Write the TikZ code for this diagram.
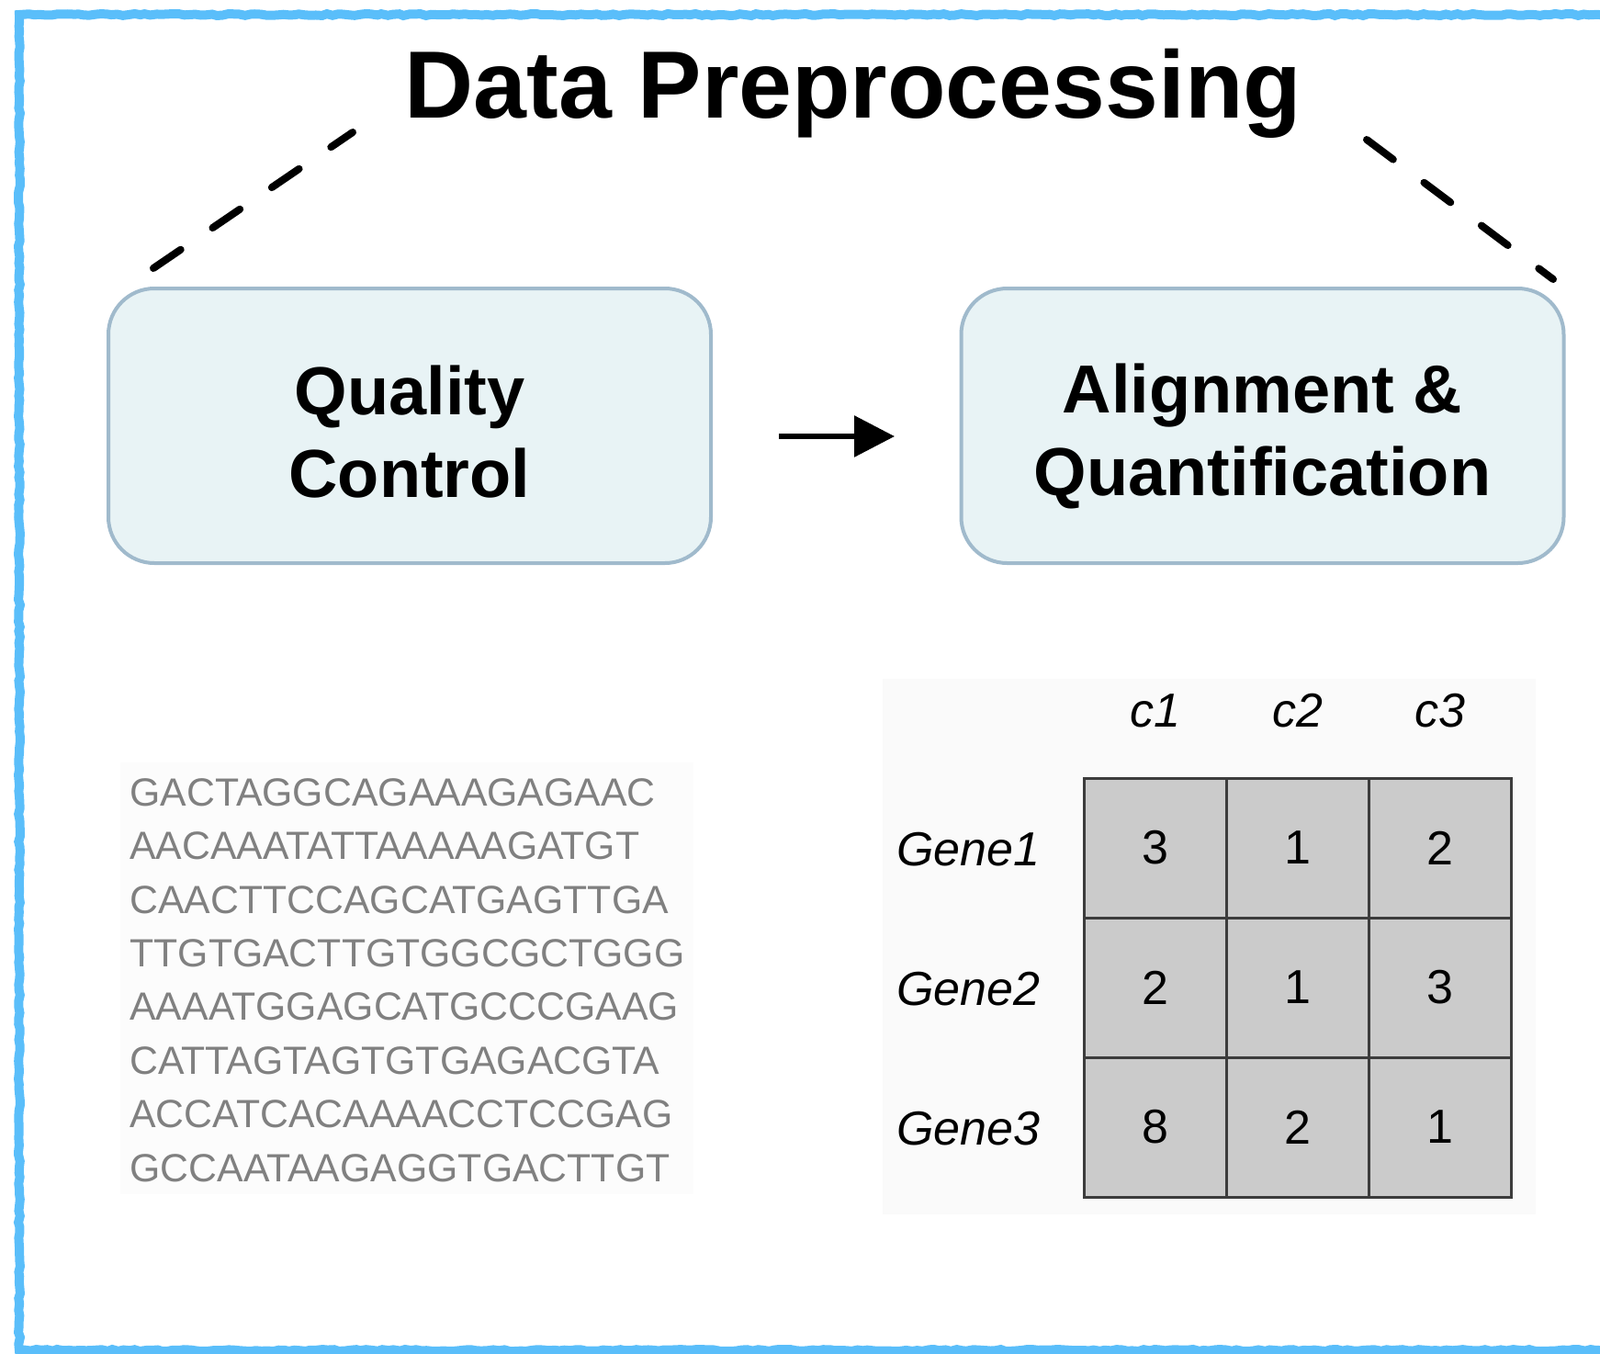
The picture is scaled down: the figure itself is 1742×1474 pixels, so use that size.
\documentclass[tikz,border=0pt]{standalone}
\usepackage{fontspec}
\setmainfont{Liberation Sans}
\usetikzlibrary{arrows.meta,decorations.pathmorphing}

\definecolor{frameblue}{RGB}{90,190,250}
\definecolor{boxfill}{RGB}{232,243,245}
\definecolor{boxline}{RGB}{160,186,204}
\definecolor{readgray}{RGB}{128,128,128}
\definecolor{cellfill}{RGB}{203,203,203}
\definecolor{cellline}{RGB}{60,60,60}

\tikzset{
  stepbox/.style={draw=boxline, line width=2pt, fill=boxfill, rounded corners=25pt, minimum width=328pt, minimum height=149.5pt, inner sep=0pt},
  steptext/.style={align=center, inner sep=0pt, font=\fontsize{37}{45}\selectfont\bfseries},
  titletext/.style={inner sep=0pt, font=\fontsize{52}{60}\selectfont\bfseries},
  bracket/.style={line width=4pt, line cap=round, dash pattern=on 18pt off 21pt},
  flow/.style={line width=3pt, -{Triangle[length=22pt,width=22pt]}},
  readtext/.style={text=readgray, align=left, inner sep=0pt, font=\fontsize{21.4}{29.2}\selectfont},
  countcell/.style={draw=cellline, line width=1.5pt, fill=cellfill, minimum width=77.5pt, minimum height=76pt, inner sep=0pt, font=\fontsize{26}{30}\selectfont},
  labeltext/.style={inner sep=0pt, font=\fontsize{26}{30}\selectfont\itshape},
  sketchframe/.style={draw=frameblue, line width=5pt, decorate, decoration={random steps, segment length=3pt, amplitude=0.5pt}}
}

\begin{document}
\begin{tikzpicture}[x=0.5pt,y=0.5pt,yscale=-1,xscale=1]
\useasboundingbox (0,0) rectangle (1742,1474);

%Shape: Frame
\draw[sketchframe] (1742,16) -- (21,16) -- (21,1470) -- (1742,1470);

%Shape: Rectangle
\fill[black!1] (131,830) rectangle (755,1300);
%Shape: Rectangle
\fill[black!2] (961,739) rectangle (1672,1322);

% Text Node
\node[titletext, anchor=base] (title) at (929,128) {Data Preprocessing};

%Rounded Rect
\node[stepbox] (qc) at (446,463.5) {};
\node[steptext] (qclabel) at (446,470) {Quality\\Control};
%Rounded Rect
\node[stepbox] (aq) at (1374.5,463.5) {};
\node[steptext] (aqlabel) at (1374.5,475) {Alignment \&\\Quantification};

%Straight Lines
\coordinate (qcend) at (167,292);
\coordinate (titleleft) at (384,144);
\coordinate (titleright) at (1488,152);
\coordinate (aqend) at (1691,304);
\draw[bracket] (qcend) -- (titleleft);
\draw[bracket] (titleright) -- (aqend);

%Straight Lines
\draw[flow, shorten <=36pt, shorten >=35.25pt] ([yshift=5.75pt]qc.east) -- ([yshift=5.75pt]aq.west);

% Text Node
\node[readtext, anchor=north west] (reads) at (141,847) {GACTAGGCAGAAAGAGAAC\\AACAAATATTAAAAAGATGT\\CAACTTCCAGCATGAGTTGA\\TTGTGACTTGTGGCGCTGGG\\AAAATGGAGCATGCCCGAAG\\CATTAGTAGTGTGAGACGTA\\ACCATCACAAAACCTCCGAG\\GCCAATAAGAGGTGACTTGT};

%Count table
\foreach \row [count=\r] in {{3,1,2},{2,1,3},{8,2,1}} {
  \foreach \v [count=\c] in \row {
    \node[countcell] (m\r\c) at ({1180+155*(\c-0.5)},{847+152*(\r-0.5)}) {\v};
  }
  \node[labeltext, anchor=base east] (gene\r) at (1133,{847+152*(\r-0.5)+19}) {Gene\r};
}
\foreach \c in {1,2,3}
  \node[labeltext, anchor=base] (col\c) at ({1180+155*(\c-0.5)},791) {c\c};

\end{tikzpicture}
\end{document}
